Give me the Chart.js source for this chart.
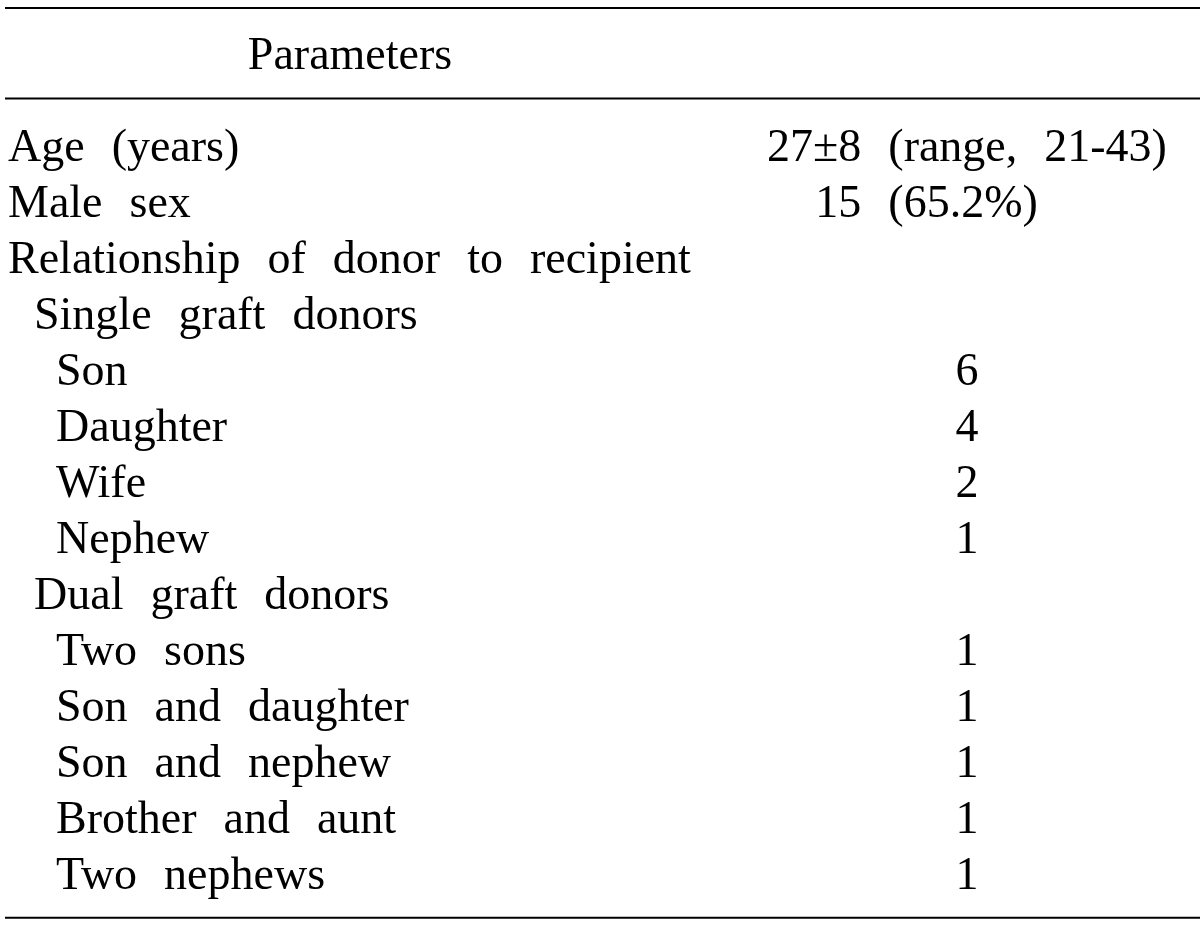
<!DOCTYPE html>
<html>
<head>
<meta charset="utf-8">
<script src="https://cdn.jsdelivr.net/npm/chart.js@4.4.1/dist/chart.umd.min.js"></script>
<style>
  html, body { margin: 0; padding: 0; background: #ffffff; }
  #wrap { width: 1200px; height: 931px; }
</style>
</head>
<body>
<div id="wrap"><canvas id="c" width="1200" height="931"></canvas></div>
<script>
// ---- table data ----
const headerLabel = "Parameters";
const rowLabels = [
  "Age (years)",
  "Male sex",
  "Relationship of donor to recipient",
  "Single graft donors",
  "Son",
  "Daughter",
  "Wife",
  "Nephew",
  "Dual graft donors",
  "Two sons",
  "Son and daughter",
  "Son and nephew",
  "Brother and aunt",
  "Two nephews"
];
const rowLevels = [0, 0, 0, 1, 2, 2, 2, 2, 1, 2, 2, 2, 2, 2];
const rowValues = [
  "27±8 (range, 21-43)",
  "15 (65.2%)",
  "", "",
  "6", "4", "2", "1",
  "",
  "1", "1", "1", "1", "1"
];

// ---- layout (row index scale) ----
const Y_MIN = -2.875, Y_MAX = 13.75;
const HEADER_ROW = -1.643;
const RULES = [-2.732, -1.116, 13.513];
const INDENT_X = [8, 34, 56];
const VALUE_X = 967;
const HEADER_X = 350;
const FONT = '46px "Liberation Serif", "Times New Roman", serif';
const WORD_GAP = 27;

function spacedWidth(ctx, text) {
  const words = text.split(" ");
  return words.reduce((a, w) => a + ctx.measureText(w).width, 0) + WORD_GAP * (words.length - 1);
}
function drawSpacedLeft(ctx, text, x, y) {
  const words = text.split(" ");
  let cx = x;
  ctx.textAlign = "left";
  words.forEach(w => {
    ctx.fillText(w, cx, y);
    cx += ctx.measureText(w).width + WORD_GAP;
  });
}
// offset of the first "(" from the start of the spaced text
function parenOffset(ctx, text) {
  const idx = text.indexOf("(");
  if (idx < 0) return null;
  return spacedWidth(ctx, text.slice(0, idx).replace(/ $/, "")) + WORD_GAP;
}

const tablePlugin = {
  id: "tableText",
  afterDatasetsDraw(chart) {
    const ctx = chart.ctx;
    const xs = chart.scales.x, ys = chart.scales.y;
    ctx.save();
    ctx.fillStyle = "#000";
    ctx.font = FONT;
    ctx.textBaseline = "alphabetic";
    const hx = xs.getPixelForValue(HEADER_X);
    drawSpacedLeft(ctx, headerLabel, hx - spacedWidth(ctx, headerLabel) / 2, ys.getPixelForValue(HEADER_ROW));
    const vx = xs.getPixelForValue(VALUE_X);
    // anchor for parenthesis alignment: first value containing "(" is centred
    let parenX = null;
    rowValues.forEach(v => {
      if (parenX === null && v.indexOf("(") >= 0) {
        parenX = vx - spacedWidth(ctx, v) / 2 + parenOffset(ctx, v);
      }
    });
    rowLabels.forEach((lab, i) => {
      const y = ys.getPixelForValue(i);
      drawSpacedLeft(ctx, lab, xs.getPixelForValue(INDENT_X[rowLevels[i]]), y);
      const v = rowValues[i];
      if (v) {
        const po = parenOffset(ctx, v);
        const startX = po !== null ? parenX - po : vx - spacedWidth(ctx, v) / 2;
        drawSpacedLeft(ctx, v, startX, y);
      }
    });
    ctx.restore();
  }
};

const ruleDatasets = RULES.map(v => ({
  type: "line",
  data: [{x: 5, y: v}, {x: 1200, y: v}],
  borderColor: "#000",
  borderWidth: 2.2,
  pointRadius: 0,
  showLine: true
}));

new Chart(document.getElementById("c"), {
  type: "scatter",
  data: {
    datasets: [
      ...ruleDatasets,
      {
        data: rowLabels.map((_, i) => ({x: INDENT_X[rowLevels[i]], y: i})),
        pointRadius: 0,
        showLine: false
      }
    ]
  },
  options: {
    responsive: false,
    devicePixelRatio: 1,
    animation: false,
    layout: { padding: 0 },
    plugins: { legend: { display: false }, tooltip: { enabled: false } },
    scales: {
      x: { type: "linear", min: 0, max: 1200, display: false },
      y: { type: "linear", min: Y_MIN, max: Y_MAX, reverse: true, display: false }
    }
  },
  plugins: [tablePlugin]
});
</script>
</body>
</html>
